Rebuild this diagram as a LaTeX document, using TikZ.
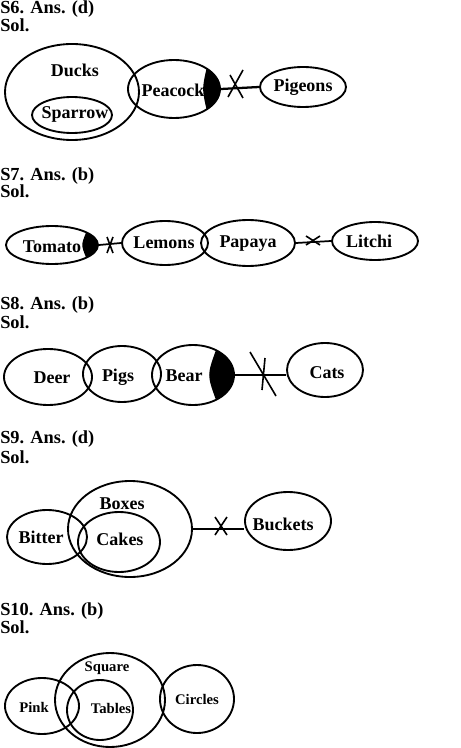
\documentclass[tikz,border=0pt]{standalone}
\usepackage{fontspec}
\setmainfont{Liberation Serif}
\usetikzlibrary{shapes.geometric}
\begin{document}
\begin{tikzpicture}[x=0.75pt,y=-0.75pt,
  ell/.style 2 args={draw, ellipse, line width=1.4pt, inner sep=0pt, minimum width=#1*1.5pt, minimum height=#2*1.5pt},
  lbl/.style={font=\bfseries\fontsize{13.5}{15}\selectfont, inner sep=0pt},
  slbl/.style={font=\bfseries\fontsize{11}{13}\selectfont, inner sep=0pt},
  head/.style={font=\bfseries\fontsize{13.8}{16}\selectfont, anchor=base west, inner sep=0pt},
  conn/.style={line width=1.3pt},
  xmark/.style={line width=1.2pt}]
\useasboundingbox (0,0) rectangle (460,748);

% ---------- S6 ----------
\node[head] (h6) at (0,14) {S6. Ans. (d)};
\node[head] (s6) at (0,32) {Sol.};
\node[ell={67}{48}] (duck) at (72,92) {};
\node[ell={40}{18}] (spar) at (72,115) {};
\node[ell={46}{29}] (pea) at (174,89) {};
\node[ell={43}{20}] (pig) at (303,87) {};
\node[lbl] (tduck) at (75,70) {Ducks};
\node[lbl] (tspar) at (75,114) {Sparrow};
\node[lbl] (tpea) at (173,90) {Peacock};
\node[lbl] (tpig) at (303,87) {Pigeons};
\fill (174,89) ++(45:46 and 29) arc[start angle=45, end angle=-45, x radius=46, y radius=29] .. controls (202,89) .. cycle;
\draw[conn, line width=1.7pt] (pea.east) -- (pig.west);
\draw[xmark] (243,70) -- (228,97);
\draw[xmark] (230,75) -- (243,98);

% ---------- S7 ----------
\node[head] (h7) at (0,181) {S7. Ans. (b)};
\node[head] (s7) at (0,198) {Sol.};
\node[ell={46}{19}] (tom) at (52,245) {};
\node[ell={43}{22}] (lem) at (165,243) {};
\node[ell={47}{23}] (pap) at (248,243) {};
\node[ell={43}{19}] (lit) at (375,241) {};
\node[lbl] (ttom) at (52,247) {Tomato};
\node[lbl] (tlem) at (164,243) {Lemons};
\node[lbl] (tpap) at (248,244) {Papaya};
\node[lbl] (tlit) at (369,241) {Litchi};
\fill (52,245) ++(42:46 and 19) arc[start angle=42, end angle=-42, x radius=46, y radius=19] .. controls (81,245) .. cycle;
\draw[conn] (tom.east) -- (lem.west);
\draw[xmark] (107,237) -- (113,253);
\draw[xmark] (113,237) -- (107,253);
\draw[conn] (pap.east) -- (lit.west);
\draw[xmark] (306,236) -- (320,245);
\draw[xmark] (306,245) -- (320,236);

% ---------- S8 ----------
\node[head] (h8) at (0,309) {S8. Ans. (b)};
\node[head] (s8) at (0,328) {Sol.};
\node[ell={44}{28}] (deer) at (48,377) {};
\node[ell={39}{28}] (pigs) at (122,374) {};
\node[ell={41}{30}] (bear) at (193,375) {};
\node[ell={38}{27}] (cats) at (325,370) {};
\node[lbl] (tdeer) at (52,378) {Deer};
\node[lbl] (tpigs) at (118,377) {Pigs};
\node[lbl] (tbear) at (184,376) {Bear};
\node[lbl] (tcats) at (327,373) {Cats};
\fill (193,375) ++(56:41 and 30) arc[start angle=56, end angle=-56, x radius=41, y radius=30] .. controls (207,375) .. cycle;
\draw[conn] (bear.east) -- (bear.east -| cats.west);
\draw[xmark] (250,352) -- (276,396);
\draw[xmark] (265,358) -- (262,390);

% ---------- S9 ----------
\node[head] (h9) at (0,443) {S9. Ans. (d)};
\node[head] (s9) at (0,463) {Sol.};
\node[ell={40}{27}] (bit) at (47,537) {};
\node[ell={62}{48}] (box) at (130,529) {};
\node[ell={41}{30}] (cak) at (119,542) {};
\node[ell={43}{29}] (buc) at (288,521) {};
\node[lbl] (tbit) at (41,537) {Bitter};
\node[lbl] (tbox) at (122,504) {Boxes};
\node[lbl] (tcak) at (120,539) {Cakes};
\node[lbl] (tbuc) at (283,524) {Buckets};
\draw[conn] (box.east) -- (box.east -| buc.west);
\draw[xmark] (215,517) -- (227,535);
\draw[xmark] (227,517) -- (215,535);

% ---------- S10 ----------
\node[head] (h10) at (0,615) {S10. Ans. (b)};
\node[head] (s10) at (0,633) {Sol.};
\node[ell={37}{28}] (pink) at (42,706) {};
\node[ell={55}{47}] (sq) at (110,700) {};
\node[ell={33}{30}] (tab) at (100,710) {};
\node[ell={37}{34}] (cir) at (197,699) {};
\node[slbl] (tpink) at (34,707) {Pink};
\node[slbl] (tsq) at (107,668) {Square};
\node[slbl] (ttab) at (111,708) {Tables};
\node[slbl] (tcir) at (197,699) {Circles};
\end{tikzpicture}
\end{document}
